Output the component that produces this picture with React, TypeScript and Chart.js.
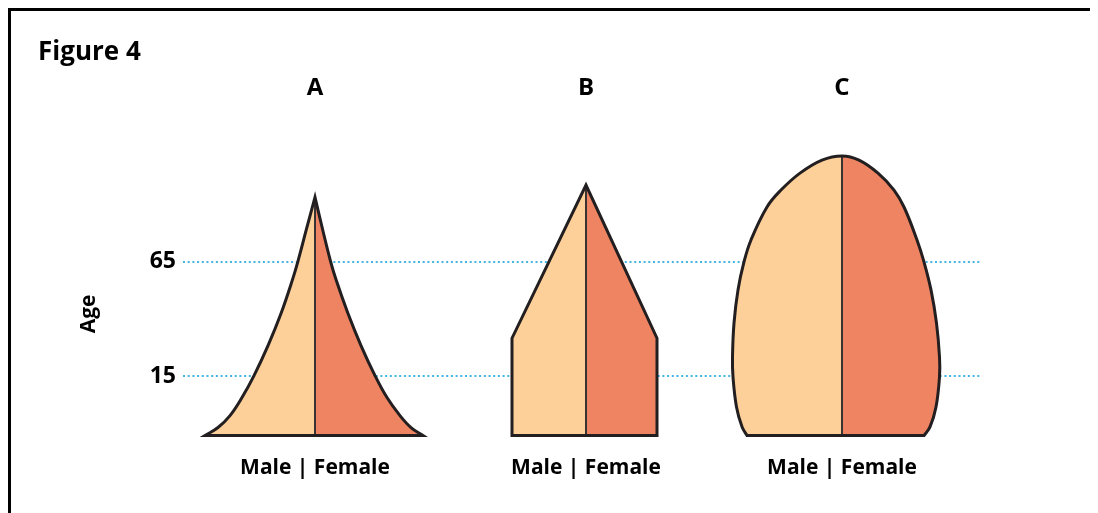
import React, { useEffect, useRef } from 'react';
import { Chart, registerables } from 'chart.js';

Chart.register(...registerables);

// ---------- text ----------
const FIGURE_TITLE = 'Figure 4';
const PANEL_LABELS = ['A', 'B', 'C'];
const SEX_LABELS = ['Male | Female', 'Male | Female', 'Male | Female'];
const Y_TITLE = 'Age';
const AGE_TICKS = [15, 65];

// ---------- shape readings (age from base to top, half-widths) ----------
const AGES_A = [-11, -7.5, -2.3, 5.6, 15.2, 28.3, 42.3, 57.1, 65.2, 79.2, 93.1];
const MALE_A = [110, 97, 85, 73, 61, 47, 34, 22.5, 17, 8.5, 0];
const FEMALE_A = [108, 96, 85, 72, 60, 46, 33, 21, 15.5, 7.5, 0];

const AGES_B = [-11, 31.5, 98.4];
const MALE_B = [74, 74, 0];
const FEMALE_B = [71, 71, 0];

const AGES_C = [-11, -7.2, 1.5, 14.6, 23.3, 38.1, 52.6, 64.8, 74.4, 88.8, 96.2, 103.6, 109.3, 111.1];
const MALE_C = [95, 100, 105.5, 109, 109.5, 108, 104, 98, 91, 75, 61, 42, 20, 0];
const FEMALE_C = [82, 88, 94, 97.5, 97.5, 94.5, 89, 82, 75, 62, 52, 36, 17, 0];

// ---------- layout & style ----------
const CENTERS = [132, 403, 659];
const X_MIN = 0;
const X_MAX = 797;
const AGE_MIN = -19.93;
const AGE_MAX = 113.69;
const TENSION = [0.4, 0.000001, 0.4];
const ROUND_TOP = [false, false, true];

const MALE_COLOR = '#FDCF99';
const FEMALE_COLOR = '#EF8462';
const OUTLINE_COLOR = '#231F20';
const CENTRE_COLOR = '#3A3334';
const GUIDE_COLOR = '#45B4E3';
const FONT = "'Open Sans', sans-serif";

type P = { x: number; y: number };

function edge(c: number, ages: number[], widths: number[], sign: number): P[] {
  return ages.map((a, i) => ({ x: c + sign * widths[i], y: a }));
}

function pyramidDatasets(idx: number, ages: number[], male: number[], female: number[]) {
  const c = CENTERS[idx];
  const n = ages.length;
  const base = { x: c, y: ages[0] };
  const top = { x: c, y: ages[n - 1] };
  const L = edge(c, ages, male, -1);
  const R = edge(c, ages, female, 1);
  const maleFill = [base, L[0], L[0], ...L.slice(1, n - 1), top, top, base];
  const femaleFill = [base, R[0], R[0], ...R.slice(1, n - 1), top, top, base];
  const apex = ROUND_TOP[idx] ? [top] : [top, top];
  const outline = [
    base, L[0], L[0], ...L.slice(1, n - 1), ...apex,
    ...R.slice(1, n - 1).reverse(), R[0], R[0], base,
  ];
  const centre = [base, top];
  const common = {
    type: 'line' as const,
    pointRadius: 0,
    pointHoverRadius: 0,
    tension: TENSION[idx],
    clip: false as const,
  };
  return [
    { ...common, data: maleFill, fill: 'shape', backgroundColor: MALE_COLOR, borderColor: 'rgba(0,0,0,0)', borderWidth: 0, order: 3 },
    { ...common, data: femaleFill, fill: 'shape', backgroundColor: FEMALE_COLOR, borderColor: 'rgba(0,0,0,0)', borderWidth: 0, order: 3 },
    { ...common, data: centre, fill: false, borderColor: CENTRE_COLOR, borderWidth: 2, tension: 0.000001, order: 2 },
    { ...common, data: outline, fill: false, borderColor: OUTLINE_COLOR, borderWidth: 3, borderJoinStyle: 'miter', order: 1 },
  ];
}

export default function App() {
  const ref = useRef<HTMLCanvasElement | null>(null);

  useEffect(() => {
    if (!ref.current) return;
    const datasets = [
      ...pyramidDatasets(0, AGES_A, MALE_A, FEMALE_A),
      ...pyramidDatasets(1, AGES_B, MALE_B, FEMALE_B),
      ...pyramidDatasets(2, AGES_C, MALE_C, FEMALE_C),
    ];
    const chart = new Chart(ref.current, {
      type: 'line',
      data: { datasets: datasets as any },
      options: {
        animation: false,
        responsive: false,
        maintainAspectRatio: false,
        events: [],
        layout: { padding: { left: 27, right: 115, top: 0, bottom: 0 } },
        plugins: {
          legend: { display: false },
          tooltip: { enabled: false },
          title: {
            display: true,
            text: FIGURE_TITLE,
            align: 'start',
            color: '#000',
            font: { family: FONT, size: 26, weight: 'bold', lineHeight: '30px' as any },
            padding: { top: 26.5, bottom: 0 },
          },
        },
        scales: {
          x: {
            type: 'linear',
            position: 'bottom',
            min: X_MIN,
            max: X_MAX,
            grid: { display: false, drawTicks: false },
            border: { display: false },
            afterBuildTicks: (s: any) => { s.ticks = CENTERS.map((v) => ({ value: v })); },
            afterFit: (s: any) => { s.height = 57; },
            ticks: {
              autoSkip: false,
              maxRotation: 0,
              padding: 0,
              color: '#000',
              font: { family: FONT, size: 21, weight: 'bold', lineHeight: '24px' as any },
              callback: (_v: any, i: number) => SEX_LABELS[i],
            },
          },
          xTop: {
            type: 'linear',
            position: 'top',
            min: X_MIN,
            max: X_MAX,
            grid: { display: false, drawTicks: false },
            border: { display: false },
            afterBuildTicks: (s: any) => { s.ticks = CENTERS.map((v) => ({ value: v })); },
            afterFit: (s: any) => { s.height = 82.5; },
            ticks: {
              autoSkip: false,
              maxRotation: 0,
              padding: 47.5,
              color: '#000',
              font: { family: FONT, size: 24, weight: 'bold', lineHeight: '28px' as any },
              callback: (_v: any, i: number) => PANEL_LABELS[i],
            },
          },
          y: {
            type: 'linear',
            position: 'left',
            min: AGE_MIN,
            max: AGE_MAX,
            afterBuildTicks: (s: any) => { s.ticks = AGE_TICKS.map((v) => ({ value: v })); },
            afterFit: (s: any) => { s.width = 145; },
            grid: { display: true, color: GUIDE_COLOR, lineWidth: 2, drawTicks: false },
            border: { display: false, dash: [2, 2.7] },
            ticks: {
              padding: 7,
              color: '#000',
              font: { family: FONT, size: 23, weight: 'bold', lineHeight: '26px' as any },
            },
            title: {
              display: true,
              text: Y_TITLE + '    ',
              color: '#000',
              font: { family: FONT, size: 21, weight: 'bold', lineHeight: '24px' as any },
              padding: { top: 39, bottom: 0 },
            },
          },
        },
      } as any,
    });
    return () => chart.destroy();
  }, []);

  return (
    <div
      style={{
        width: 1090,
        height: 505,
        boxSizing: 'border-box',
        borderTop: '3px solid #000',
        borderLeft: '3px solid #000',
        borderRight: '3px solid #000',
        background: '#fff',
      }}
    >
      <canvas ref={ref} width={1084} height={502} style={{ display: 'block' }} />
    </div>
  );
}
